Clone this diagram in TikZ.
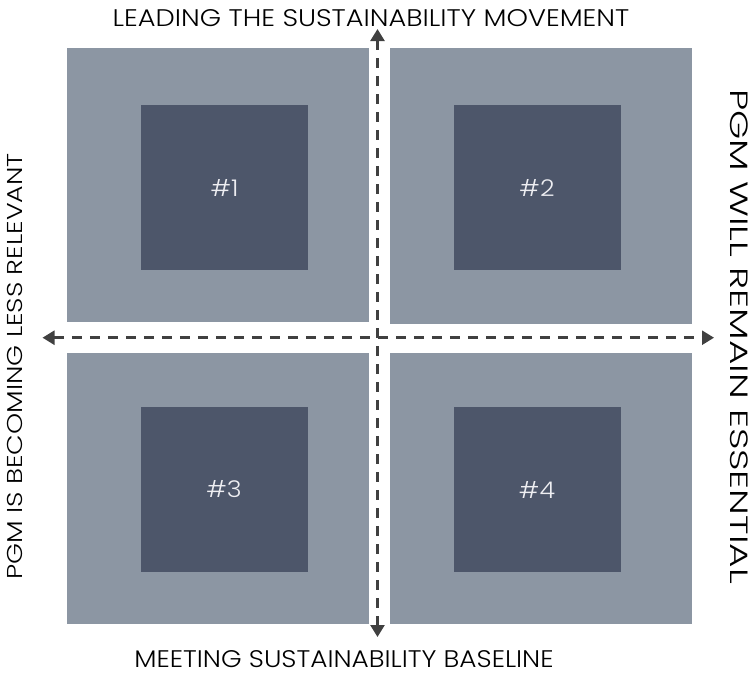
\documentclass[tikz,border=0pt]{standalone}
\usepackage{fontspec}
\setmainfont{Poppins}[UprightFont=* Light]
\usetikzlibrary{arrows.meta}
\definecolor{outerc}{HTML}{8C96A3}
\definecolor{innerc}{HTML}{4D566A}
\definecolor{axisc}{HTML}{404040}
\definecolor{labc}{HTML}{EEEEF2}
\tikzset{
  outerbox/.style={fill=outerc, draw=none},
  innerbox/.style={fill=innerc, draw=none, minimum width=167pt, minimum height=165pt, inner sep=0pt},
  axis/.style={draw=axisc, line width=2.5pt, dash pattern=on 10pt off 8pt,
     {Triangle[length=12pt,width=14pt]}-{Triangle[length=12pt,width=14pt]}},
  numlab/.style={text=labc, font=\fontsize{23}{26}\selectfont, inner sep=0pt},
  axlab/.style={text=black, inner sep=0pt, anchor=base, text depth=0pt}
}
\begin{document}
\begin{tikzpicture}[x=1pt,y=-1pt]
\useasboundingbox (0,0) rectangle (752,673);
% outer boxes
\fill[outerbox] (66.7,47.7) rectangle (369,322);
\fill[outerbox] (390,47.7) rectangle (691.7,324);
\fill[outerbox] (66.7,353) rectangle (369,624);
\fill[outerbox] (390,353) rectangle (691.7,624);
% inner boxes
\node[innerbox] (q1) at (224.5,187.5) {};
\node[innerbox] (q2) at (537,187.5) {};
\node[innerbox] (q3) at (224,489.5) {};
\node[innerbox] (q4) at (537,489.5) {};
\node[numlab] at (q1.center) {\scalebox{1.1}[1]{\#1}};
\node[numlab] at (q2.center) {\scalebox{1.1}[1]{\#2}};
\node[numlab] at (q3.center) {\scalebox{1.1}[1]{\#3}};
\node[numlab] at (q4.center) {\scalebox{1.1}[1]{\#4}};
% axes
\coordinate (top) at (377.5,29);
\coordinate (bot) at (377.5,637);
\coordinate (lft) at (42.5,337.7);
\coordinate (rgt) at (714,337.7);
\draw[axis] (bot) -- (top);
\draw[axis] (lft) -- (rgt);
% labels
\node[axlab, font=\fontsize{24}{26}\selectfont] (tl) at (371,26) {\scalebox{1.136}[1]{LEADING THE SUSTAINABILITY MOVEMENT}};
\node[axlab, font=\fontsize{24}{26}\selectfont] (bl) at (344,667.5) {\scalebox{1.10}[1]{MEETING SUSTAINABILITY BASELINE}};
\node[axlab, rotate=90, font=\fontsize{21.5}{24}\selectfont] (ll) at (22.5,366.5) {\scalebox{1.248}[1]{PGM IS BECOMING LESS RELEVANT}};
\node[axlab, rotate=-90, font=\fontsize{25}{28}\selectfont] (rl) at (730,336.5) {\scalebox{1.50}[1]{PGM WILL REMAIN ESSENTIAL}};
\end{tikzpicture}
\end{document}
